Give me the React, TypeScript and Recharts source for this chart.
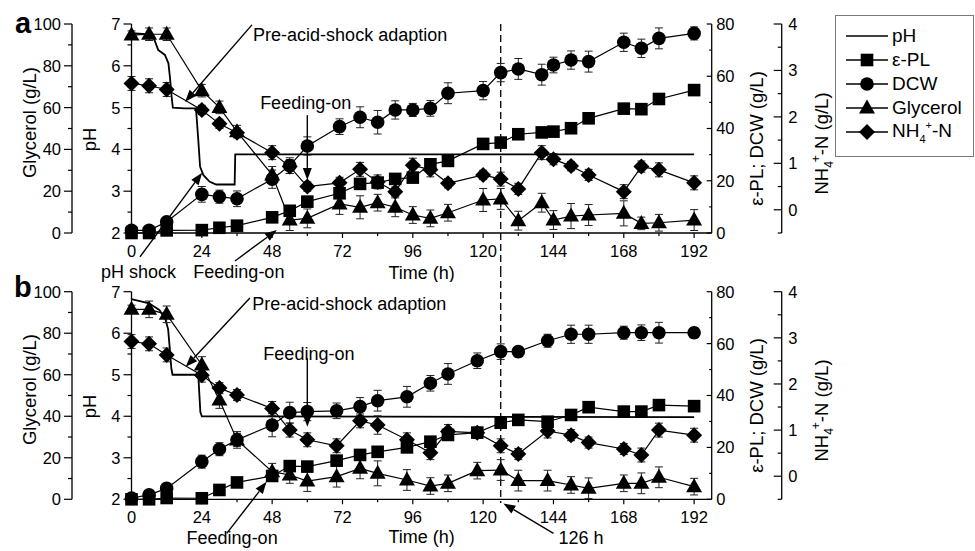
import React from "react";
import {
  ComposedChart,
  Line,
  XAxis,
  YAxis,
  ErrorBar,
  ReferenceLine,
  ReferenceDot,
  Legend,
} from "recharts";

const FONT = "'Liberation Sans', Arial, Helvetica, sans-serif";

// ---- panel a : sampling times (h) and measured values ----
const timeA = [0, 6, 12, 24, 30, 36, 48, 54, 60, 71, 78, 84, 90, 96, 102, 108, 120, 126, 132, 140, 144, 150, 156, 168, 174, 180, 192];
const eplA = [0, 0, 1, 1.1, 2, 2.8, 6, 8.5, 12, 15.2, 18.8, 19.3, 20.7, 21.2, 26.3, 27.6, 34.1, 34.6, 37.8, 38.5, 38.8, 40.1, 43.9, 47.6, 47.4, 51.3, 54.7];
const eplErrA = [0, 0, 0.5, 0.5, 1, 1, 2, 1.5, 2, 2, 1.5, 1.5, 1.5, 1.5, 2, 2, 2, 2, 1.5, 1.5, 1.5, 1.5, 2, 1, 1, 2, 1.5];
const dcwA = [1, 1, 4.3, 14.8, 13.9, 13.1, 20.6, 25.8, 33.3, 40.7, 44.3, 42.4, 47.1, 47.1, 47.7, 53.5, 54.5, 61.4, 62.8, 60.6, 64.3, 66.2, 65.6, 73, 70.7, 74.5, 76.4];
const dcwErrA = [0.5, 0.5, 1.5, 3, 2.5, 3, 3.5, 3, 3.5, 3, 4, 4.5, 3.5, 2.5, 3, 4, 3.5, 3.5, 4, 4, 3, 3.5, 4, 3.5, 3.5, 4, 2.5];
const glyA = [94.7, 95.1, 95.1, 68.1, 60.1, 48.5, 27.8, 6.2, 7, 13.9, 12.3, 14.5, 12.3, 8.6, 7, 9.7, 15.8, 16.3, 5.9, 14.5, 6.2, 8.1, 8.6, 9.4, 4.6, 4.9, 6.2];
const glyErrA = [2, 3, 3, 3, 3, 3, 4, 5, 4.5, 5, 5.5, 4, 4.5, 4, 4, 4, 5.5, 5, 4.5, 4.5, 4.5, 6, 5, 6, 3, 4, 5];
const nh4A = [2.72, 2.67, 2.59, 2.15, 1.85, 1.66, 1.23, 0.93, 0.5, 0.58, 0.87, 0.6, 0.39, 0.96, 0.86, 0.57, 0.75, 0.66, 0.45, 1.23, 1.09, 0.94, 0.75, 0.39, 0.93, 0.86, 0.58];
const nh4ErrA = [0.15, 0.15, 0.15, 0.1, 0.1, 0.1, 0.15, 0.15, 0.1, 0.12, 0.15, 0.15, 0.1, 0.15, 0.15, 0.1, 0.1, 0.15, 0.12, 0.15, 0.12, 0.1, 0.12, 0.15, 0.12, 0.15, 0.15];
const phTimeA = [0, 5, 7.4, 9.1, 11.4, 12.6, 13.1, 13.7, 14.1, 18, 22, 22.8, 23.4, 24.5, 26.6, 28.9, 35.2, 35.4, 192];
const phA = [6.78, 6.76, 6.7, 6.38, 6.26, 6.06, 5.74, 5.26, 5.0, 4.98, 4.98, 4.22, 3.59, 3.39, 3.23, 3.16, 3.16, 3.88, 3.88];

// ---- panel b ----
const timeB = [0, 6, 12, 24, 30, 36, 48, 54, 60, 70, 78, 84, 94, 102, 108, 118, 126, 132, 142, 150, 156, 168, 174, 180, 192];
const eplB = [0, 0, 0.5, 0.4, 3.6, 6.5, 9, 12.8, 12.6, 14.9, 17.1, 18.3, 20, 22.2, 24.8, 25.7, 29.5, 30.6, 29.9, 32.5, 35.5, 33.8, 33.8, 36.3, 35.9];
const eplErrB = [0, 0, 0.3, 0.3, 1, 1.5, 1.5, 1.5, 1.5, 1.5, 1.5, 1.5, 1.5, 1.5, 1.5, 1.5, 1.5, 1.5, 1.5, 1.5, 1.5, 1.5, 1.5, 1.5, 1.5];
const dcwB = [0.5, 1.7, 4.2, 14.5, 19.3, 22.9, 28.6, 33.4, 33.8, 34.1, 35.7, 38, 39.5, 44.7, 48.3, 53.4, 56.9, 56.9, 61.1, 63.6, 63.6, 64.2, 64.2, 64.2, 64.2];
const dcwErrB = [0.5, 1, 2, 2.5, 2.5, 2.5, 4.5, 4, 3.5, 3, 3.5, 4, 4, 3, 4, 3, 3, 2, 2.5, 3.5, 3.5, 2.5, 3, 4, 2];
const glyB = [91.5, 91.5, 89.1, 64.7, 47.8, 28.6, 13.3, 11.7, 8.8, 10.9, 14.9, 12.5, 9.3, 6.4, 7.7, 13.8, 14.1, 9, 9, 6.9, 5.3, 7.7, 7.7, 10.6, 6.1];
const glyErrB = [2, 4, 4, 4, 4, 4, 4, 4, 5, 5, 5, 6, 5, 4, 4, 4, 5, 5, 5, 4, 5, 4, 5, 5, 4];
const nh4B = [2.92, 2.87, 2.63, 2.19, 1.91, 1.76, 1.47, 1.0, 0.79, 0.66, 1.2, 1.11, 0.79, 0.51, 0.97, 0.94, 0.66, 0.48, 0.98, 0.89, 0.73, 0.59, 0.46, 1.0, 0.89];
const nh4ErrB = [0.15, 0.15, 0.15, 0.15, 0.12, 0.12, 0.15, 0.15, 0.15, 0.15, 0.15, 0.2, 0.15, 0.15, 0.15, 0.12, 0.15, 0.12, 0.15, 0.12, 0.12, 0.12, 0.15, 0.15, 0.15];
const phTimeB = [0, 6, 9.5, 11.5, 12.5, 13.1, 13.6, 14, 22.8, 23.1, 23.5, 24, 192];
const phB = [6.82, 6.72, 6.56, 6.35, 6.1, 5.6, 5.15, 5.0, 5.0, 4.6, 4.1, 4.0, 3.98];

// ---- axes ----
const xTicks = [0, 12, 24, 36, 48, 60, 72, 84, 96, 108, 120, 132, 144, 156, 168, 180, 192];
const phTicks = [2, 2.5, 3, 3.5, 4, 4.5, 5, 5.5, 6, 6.5, 7];
const glyTicks = [0, 10, 20, 30, 40, 50, 60, 70, 80, 90, 100];
const eplTicks = [0, 10, 20, 30, 40, 50, 60, 70, 80];
const nh4Ticks = [-0.5, 0, 0.5, 1, 1.5, 2, 2.5, 3, 3.5, 4];
const shiftTime = 126;

const legendNames = ["pH", "ε-PL", "DCW", "Glycerol", "NH4+-N"];
const legendMarks = ["none", "square", "circle", "triangle", "diamond"];

// axis ids: axes on one side are stacked in id order, the first one next to the plot
const PH = "l1";
const GLY = "l2";
const EPL = "r1";
const NH4 = "r2";

// annotations (time, pH) per panel
const notesA = [
  { t: 41.5, ph: 6.74, text: "Pre-acid-shock adaption" },
  { t: 43.9, ph: 5.11, text: "Feeding-on" },
  { t: -10.4, ph: 1.07, text: "pH shock" },
  { t: 21.1, ph: 1.07, text: "Feeding-on" },
];
const arrowsA = [
  { from: [41.1, 6.98], to: [18.3, 5.14] },
  { from: [60, 4.82], to: [60, 3.27] },
  { from: [2.9, 1.43], to: [24.1, 3.44] },
  { from: [35.3, 1.33], to: [49.6, 2.07] },
];
const notesB = [
  { t: 41.2, ph: 6.72, text: "Pre-acid-shock adaption" },
  { t: 45, ph: 5.52, text: "Feeding-on" },
  { t: 18.8, ph: 1.08, text: "Feeding-on" },
  { t: 145.7, ph: 1.08, text: "126 h" },
];
const arrowsB = [
  { from: [40.4, 6.85], to: [18.5, 5.19] },
  { from: [60, 5.4], to: [60, 3.75] },
  { from: [32.5, 1.18], to: [46.1, 2.42] },
  { from: [144, 1.18], to: [126.9, 1.9] },
];

const buildRows = (
  time: number[], epl: number[], eplErr: number[], dcw: number[], dcwErr: number[],
  gly: number[], glyErr: number[], nh4: number[], nh4Err: number[]
) =>
  time.map((t, i) => ({
    t, epl: epl[i], eplErr: eplErr[i], dcw: dcw[i], dcwErr: dcwErr[i],
    gly: gly[i], glyErr: glyErr[i], nh4: nh4[i], nh4Err: nh4Err[i],
  }));

const rowsA = buildRows(timeA, eplA, eplErrA, dcwA, dcwErrA, glyA, glyErrA, nh4A, nh4ErrA);
const rowsB = buildRows(timeB, eplB, eplErrB, dcwB, dcwErrB, glyB, glyErrB, nh4B, nh4ErrB);
const phRowsA = phTimeA.map((t, i) => ({ t, ph: phA[i] }));
const phRowsB = phTimeB.map((t, i) => ({ t, ph: phB[i] }));

const AXIS = { stroke: "#000", strokeWidth: 1.3 };
const tickText = { fontFamily: FONT, fontSize: 16.5, fill: "#000" };

function markerShape(kind: string, cx: number, cy: number, key?: any) {
  if (kind === "circle") return <circle key={key} cx={cx} cy={cy} r={6.8} fill="#000" />;
  if (kind === "square")
    return <rect key={key} x={cx - 6.3} y={cy - 6.3} width={12.6} height={12.6} fill="#000" />;
  if (kind === "triangle")
    return <polygon key={key} points={`${cx},${cy - 8.5} ${cx + 8},${cy + 5.5} ${cx - 8},${cy + 5.5}`} fill="#000" />;
  if (kind === "diamond")
    return <polygon key={key} points={`${cx},${cy - 8} ${cx + 8},${cy} ${cx},${cy + 8} ${cx - 8},${cy}`} fill="#000" />;
  return <g key={key} />;
}

const dotOf = (kind: string) => (p: any) => {
  if (p.cx == null || p.cy == null || isNaN(p.cy)) return <g key={p.key} />;
  return markerShape(kind, p.cx, p.cy, p.key ?? p.index);
};

const isMajor = (v: number, step: number) => Math.abs(v / step - Math.round(v / step)) < 1e-6;

const leftTick = (step: number) => (p: any) => {
  const v = Number(p.payload.value);
  const major = isMajor(v, step);
  const ax = p.x + 8;
  return (
    <g>
      <line x1={ax - (major ? 8 : 4)} x2={ax} y1={p.y} y2={p.y} stroke="#000" strokeWidth={1.2} />
      {major && (
        <text x={ax - 11} y={p.y} dy="0.36em" textAnchor="end" style={tickText}>
          {v}
        </text>
      )}
    </g>
  );
};

const rightTick = (step: number, len: number, gap: number) => (p: any) => {
  const v = Number(p.payload.value);
  const major = isMajor(v, step);
  const ax = p.x - 8;
  return (
    <g>
      <line x1={ax - (major ? len : len / 2)} x2={ax} y1={p.y} y2={p.y} stroke="#000" strokeWidth={1.2} />
      {major && (
        <text x={ax + gap} y={p.y} dy="0.36em" textAnchor="start" style={tickText}>
          {v}
        </text>
      )}
    </g>
  );
};

const bottomTick = (p: any) => {
  const v = Number(p.payload.value);
  const major = isMajor(v, 24);
  const ay = p.y - 8;
  return (
    <g>
      <line x1={p.x} x2={p.x} y1={ay} y2={ay + (major ? 5 : 3)} stroke="#000" strokeWidth={1.2} />
      {major && (
        <text x={p.x} y={ay + 24} textAnchor="middle" style={tickText}>
          {v}
        </text>
      )}
    </g>
  );
};

const yTitle = (content: React.ReactNode, side: "left" | "right", gap: number, shift: number) =>
  function YTitle(p: any) {
    const vb = p.viewBox || {};
    const axisX = side === "left" ? vb.x + vb.width : vb.x;
    const cx = side === "left" ? axisX - gap : axisX + gap;
    const cy = vb.y + vb.height / 2 + shift;
    return (
      <text
        x={cx}
        y={cy}
        dy="0.35em"
        textAnchor="middle"
        transform={`rotate(-90 ${cx} ${cy})`}
        style={{ fontFamily: FONT, fontSize: 18.5, fill: "#000" }}
      >
        {content}
      </text>
    );
  };

const xTitle = (dy: number) =>
  function XTitle(p: any) {
    const vb = p.viewBox || {};
    return (
      <text x={vb.x + vb.width / 2} y={vb.y + dy} textAnchor="middle" style={{ fontFamily: FONT, fontSize: 18, fill: "#000" }}>
        Time (h)
      </text>
    );
  };

const noteLabel = (text: string) =>
  function Note(p: any) {
    const vb = p.viewBox || {};
    return (
      <text x={vb.x} y={vb.y} dy="0.36em" textAnchor="start" style={{ fontFamily: FONT, fontSize: 18, fill: "#000" }}>
        {text}
      </text>
    );
  };

const arrowShape = (p: any) => {
  const { x1, y1, x2, y2 } = p;
  const ang = Math.atan2(y2 - y1, x2 - x1);
  const L = 12;
  const W = 4.5;
  const bx = x2 - L * Math.cos(ang);
  const by = y2 - L * Math.sin(ang);
  const pts = `${x2},${y2} ${bx + W * Math.sin(ang)},${by - W * Math.cos(ang)} ${bx - W * Math.sin(ang)},${by + W * Math.cos(ang)}`;
  return (
    <g>
      <line x1={x1} y1={y1} x2={bx} y2={by} stroke="#000" strokeWidth={1.4} />
      <polygon points={pts} fill="#000" />
    </g>
  );
};

const nh4Title = (
  <>
    NH
    <tspan fontSize={12} dy={5}>4</tspan>
    <tspan fontSize={12} dy={-13} dx={-1}>+</tspan>
    <tspan dy={8}>-N (g/L)</tspan>
  </>
);

function richName(name: string) {
  if (name !== "NH4+-N") return name;
  return (
    <>
      NH
      <span style={{ fontSize: 11, position: "relative", top: 6 }}>4</span>
      <span style={{ fontSize: 11, position: "relative", top: -8 }}>+</span>
      -N
    </>
  );
}

const LegendBox = () => (
  <div
    style={{
      border: "1px solid #7a7a7a",
      background: "#fff",
      width: 139,
      height: 142,
      boxSizing: "border-box",
      paddingTop: 8,
      fontFamily: FONT,
      fontSize: 19,
      color: "#000",
    }}
  >
    {legendNames.map((name, i) => (
      <div key={name} style={{ display: "flex", alignItems: "center", height: 24, lineHeight: "24px" }}>
        <svg width={56} height={24} style={{ flex: "none" }}>
          <line x1={10} x2={52} y1={12} y2={12} stroke="#000" strokeWidth={1.3} />
          {markerShape(legendMarks[i], 31, 12)}
        </svg>
        <span>{richName(name)}</span>
      </div>
    ))}
  </div>
);

type PanelProps = {
  top: number;
  height: number;
  mTop: number;
  axisH: number;
  titleDy: number;
  rows: any[];
  phRows: any[];
  notes: { t: number; ph: number; text: string }[];
  arrows: { from: number[]; to: number[] }[];
  dash: number[];
  legend?: boolean;
};

function Panel({ top, height, mTop, axisH, titleDy, rows, phRows, notes, arrows, dash, legend }: PanelProps) {
  return (
    <div style={{ position: "absolute", left: 0, top }}>
      <ComposedChart width={975} height={height} data={rows} margin={{ top: mTop, right: 138.3, bottom: 0, left: 0 }}>
        <XAxis xAxisId="top" orientation="top" dataKey="t" type="number" domain={[0, 198]} height={0} tick={false} tickLine={false} axisLine={AXIS} />
        <XAxis
          dataKey="t"
          type="number"
          domain={[0, 198]}
          ticks={xTicks}
          interval={0}
          height={axisH}
          tickSize={6}
          tickMargin={2}
          tickLine={false}
          axisLine={AXIS}
          tick={bottomTick}
          label={xTitle(titleDy)}
        />
        <YAxis
          yAxisId={PH}
          orientation="left"
          width={59.5}
          type="number"
          domain={[2, 7]}
          ticks={phTicks}
          interval={0}
          tickSize={6}
          tickMargin={2}
          tickLine={false}
          axisLine={AXIS}
          tick={leftTick(1)}
          label={yTitle("pH", "left", 41.5, 11)}
        />
        <YAxis
          yAxisId={GLY}
          orientation="left"
          width={72}
          type="number"
          domain={[0, 100]}
          ticks={glyTicks}
          interval={0}
          tickSize={6}
          tickMargin={2}
          tickLine={false}
          axisLine={AXIS}
          tick={leftTick(20)}
          label={yTitle("Glycerol (g/L)", "left", 42, -6)}
        />
        <YAxis
          yAxisId={EPL}
          orientation="right"
          width={70}
          type="number"
          domain={[0, 80]}
          ticks={eplTicks}
          interval={0}
          tickSize={6}
          tickMargin={2}
          tickLine={false}
          axisLine={AXIS}
          tick={rightTick(20, 5, 4.5)}
          label={yTitle("ε-PL; DCW (g/L)", "right", 45, 10)}
        />
        <YAxis
          yAxisId={NH4}
          orientation="right"
          width={55}
          type="number"
          domain={[-0.5, 4]}
          ticks={nh4Ticks}
          interval={0}
          tickSize={6}
          tickMargin={2}
          tickLine={false}
          axisLine={AXIS}
          tick={rightTick(1, 8, 6.5)}
          label={yTitle(nh4Title, "right", 40, 15)}
        />

        <ReferenceLine
          yAxisId={PH}
          segment={[{ x: shiftTime, y: dash[0] }, { x: shiftTime, y: dash[1] }]}
          ifOverflow="visible"
          stroke="#000"
          strokeWidth={1.3}
          strokeDasharray="7 4"
        />

        <Line data={phRows} dataKey="ph" yAxisId={PH} type="linear" stroke="#000" strokeWidth={1.8} dot={false} isAnimationActive={false} />

        <Line dataKey="gly" yAxisId={GLY} type="linear" stroke="#000" strokeWidth={1.2} dot={dotOf("triangle")} isAnimationActive={false}>
          <ErrorBar dataKey="glyErr" direction="y" width={4} stroke="#222" strokeWidth={1} />
        </Line>
        <Line dataKey="nh4" yAxisId={NH4} type="linear" stroke="#000" strokeWidth={1.2} dot={dotOf("diamond")} isAnimationActive={false}>
          <ErrorBar dataKey="nh4Err" direction="y" width={4} stroke="#222" strokeWidth={1} />
        </Line>
        <Line dataKey="epl" yAxisId={EPL} type="linear" stroke="#000" strokeWidth={1.2} dot={dotOf("square")} isAnimationActive={false}>
          <ErrorBar dataKey="eplErr" direction="y" width={4} stroke="#222" strokeWidth={1} />
        </Line>
        <Line dataKey="dcw" yAxisId={EPL} type="linear" stroke="#000" strokeWidth={1.2} dot={dotOf("circle")} isAnimationActive={false}>
          <ErrorBar dataKey="dcwErr" direction="y" width={4} stroke="#222" strokeWidth={1} />
        </Line>

        {arrows.map((a, i) => (
          <ReferenceLine
            key={`arrow-${i}`}
            yAxisId={PH}
            segment={[{ x: a.from[0], y: a.from[1] }, { x: a.to[0], y: a.to[1] }]}
            ifOverflow="visible"
            shape={arrowShape}
          />
        ))}
        {notes.map((n, i) => (
          <ReferenceDot
            key={`note-${i}`}
            yAxisId={PH}
            x={n.t}
            y={n.ph}
            r={0}
            fill="none"
            stroke="none"
            ifOverflow="visible"
            label={noteLabel(n.text)}
          />
        ))}

        {legend && (
          <Legend
            layout="vertical"
            align="center"
            verticalAlign="middle"
            content={() => <LegendBox />}
            wrapperStyle={{ left: 835, top: 15, width: 139, height: 142 }}
          />
        )}
      </ComposedChart>
    </div>
  );
}

export default function App() {
  return (
    <div style={{ position: "fixed", left: 0, top: 0, width: 975, height: 551, background: "#fff", overflow: "hidden" }}>
      <Panel
        top={0}
        height={282}
        mTop={24}
        axisH={49}
        titleDy={46}
        rows={rowsA}
        phRows={phRowsA}
        notes={notesA}
        arrows={arrowsA}
        dash={[7, 1.115]}
        legend
      />
      <Panel
        top={268}
        height={283}
        mTop={23.7}
        axisH={51.7}
        titleDy={44}
        rows={rowsB}
        phRows={phRowsB}
        notes={notesB}
        arrows={arrowsB}
        dash={[7.52, 1.91]}
      />
      <svg width={975} height={551} style={{ position: "absolute", left: 0, top: 0, pointerEvents: "none" }}>
        <text x={15} y={33} style={{ fontFamily: FONT, fontSize: 29, fontWeight: "bold", fill: "#000" }}>a</text>
        <text x={14} y={297} style={{ fontFamily: FONT, fontSize: 29, fontWeight: "bold", fill: "#000" }}>b</text>
      </svg>
    </div>
  );
}
